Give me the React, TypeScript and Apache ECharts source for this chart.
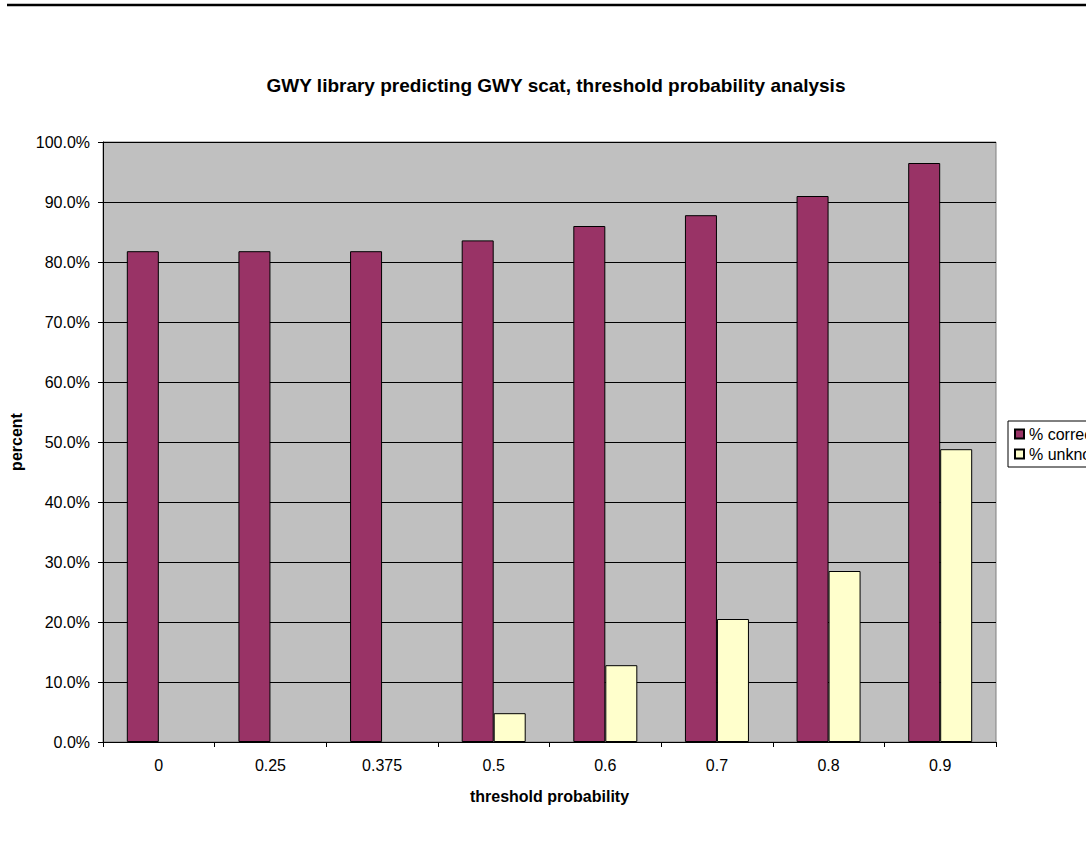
import React, { useEffect, useRef } from "react";
import * as echarts from "echarts";

const categories = ["0", "0.25", "0.375", "0.5", "0.6", "0.7", "0.8", "0.9"];
const pctCorrect = [0.818, 0.818, 0.818, 0.836, 0.86, 0.878, 0.91, 0.965];
const pctUnknown = [0, 0, 0, 0.048, 0.128, 0.205, 0.285, 0.488];
const seriesNames = ["% correct", "% unknown"];

const asBars = (vals: number[]) =>
  vals.map((v) => (v === 0 ? { value: v, itemStyle: { borderWidth: 0 } } : v));

export default function App() {
  const ref = useRef<HTMLDivElement>(null);
  useEffect(() => {
    const chart = echarts.init(ref.current!, null, { renderer: "svg" });
    const font = "'Liberation Sans', Arial, sans-serif";
    chart.setOption({
      animation: false,
      backgroundColor: "#ffffff",
      textStyle: { fontFamily: font },
      title: {
        text: "GWY library predicting GWY scat, threshold probability analysis",
        left: 551,
        textAlign: "center",
        top: 71,
        textStyle: { fontSize: 19, fontWeight: "bold", color: "#000", fontFamily: font },
      },
      graphic: [
        {
          type: "line",
          shape: { x1: 7, y1: 5, x2: 1086, y2: 5 },
          style: { stroke: "#000", lineWidth: 2.5 },
        },
      ],
      legend: {
        orient: "vertical",
        left: 1008,
        top: 421,
        itemWidth: 9,
        itemHeight: 9,
        itemGap: 4,
        padding: [5, 6, 5, 6],
        borderColor: "#000",
        borderWidth: 1,
        backgroundColor: "#fff",
        icon: "rect",
        data: seriesNames,
        textStyle: { fontSize: 16, color: "#000", fontFamily: font, padding: [0, 0, 0, 0] },
      },
      grid: {
        left: 103,
        right: 90,
        top: 142,
        bottom: 121,
        show: true,
        containLabel: false,
        outerBoundsMode: "none",
        backgroundColor: "#C0C0C0",
        borderColor: "#808080",
        borderWidth: 1,
      },
      xAxis: {
        type: "category",
        data: categories,
        name: "threshold probability",
        nameLocation: "middle",
        nameGap: 46,
        nameTextStyle: { fontSize: 16, fontWeight: "bold", color: "#000", fontFamily: font },
        axisLine: { lineStyle: { color: "#000", width: 1 } },
        axisTick: { show: true, length: 5, lineStyle: { color: "#000" } },
        axisLabel: { fontSize: 16, color: "#000", margin: 15, fontFamily: font },
      },
      yAxis: {
        type: "value",
        min: 0,
        max: 1,
        interval: 0.1,
        name: "percent",
        nameLocation: "middle",
        nameGap: 79,
        nameTextStyle: { fontSize: 16, fontWeight: "bold", color: "#000", fontFamily: font },
        axisLine: { show: true, lineStyle: { color: "#000", width: 1 } },
        axisTick: { show: true, length: 5, lineStyle: { color: "#000" } },
        axisLabel: {
          fontSize: 16,
          color: "#000",
          margin: 13,
          fontFamily: font,
          formatter: (v: number) => (v * 100).toFixed(1) + "%",
        },
        splitLine: { show: true, lineStyle: { color: "#000", width: 1 } },
      },
      series: [
        {
          name: seriesNames[0],
          type: "bar",
          data: asBars(pctCorrect),
          barWidth: 32,
          barGap: "0%",
          itemStyle: { color: "#993366", borderColor: "#000", borderWidth: 1 },
        },
        {
          name: seriesNames[1],
          type: "bar",
          data: asBars(pctUnknown),
          barWidth: 32,
          itemStyle: { color: "#FFFFCC", borderColor: "#000", borderWidth: 1 },
        },
      ],
    });
    return () => chart.dispose();
  }, []);
  return (
    <div
      ref={ref}
      style={{ position: "fixed", left: 0, top: 0, width: 1086, height: 863 }}
    />
  );
}
